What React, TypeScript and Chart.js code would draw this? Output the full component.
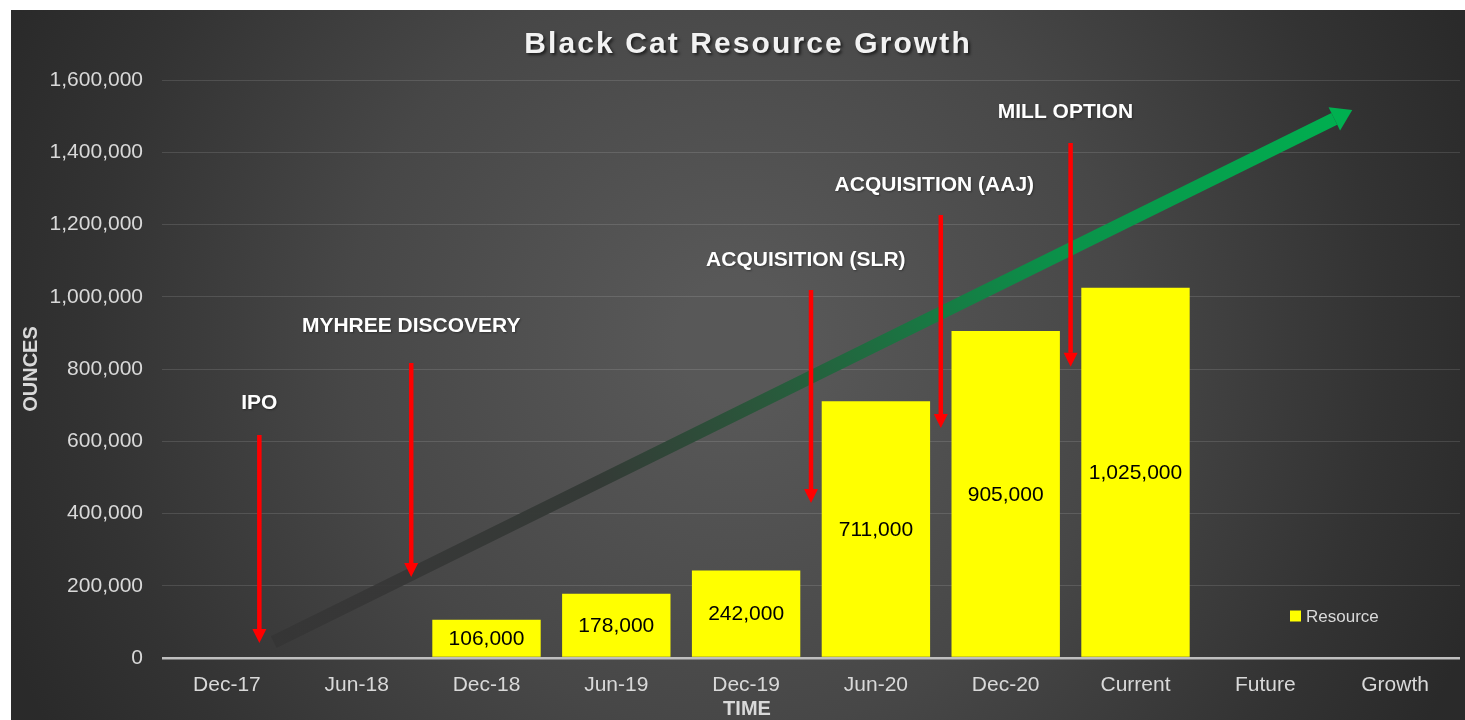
import React, { useEffect, useRef } from 'react';
import { Chart, registerables } from 'chart.js';

Chart.register(...registerables);

// ---------------- data ----------------
const chartTitle = 'Black Cat Resource Growth';
const categories = ['Dec-17', 'Jun-18', 'Dec-18', 'Jun-19', 'Dec-19', 'Jun-20', 'Dec-20', 'Current', 'Future', 'Growth'];
const resourceOunces: (number | null)[] = [null, null, 106000, 178000, 242000, 711000, 905000, 1025000, null, null];
const seriesName = 'Resource';
const yAxisTitle = 'OUNCES';
const xAxisTitle = 'TIME';
const yMin = 0;
const yMax = 1600000;
const yStep = 200000;

// event annotations (x in category units, y in ounces)
const eventLabels = ['IPO', 'MYHREE DISCOVERY', 'ACQUISITION (SLR)', 'ACQUISITION (AAJ)', 'MILL OPTION'];
const eventArrowX = [0.25, 1.42, 4.5, 5.5, 6.5];
const eventLabelX = [0.25, 1.42, 4.46, 5.45, 6.46];
const eventLabelY = [706000, 919000, 1101700, 1309000, 1511400];
const eventArrowTop = [617000, 816600, 1018700, 1226000, 1425600];
const eventArrowTip = [41500, 224000, 429000, 636700, 806000];

// growth trend arrow (start, end)
const growthArrowX = [0.36, 8.67];
const growthArrowY = [44000, 1517000];

// ---------------- styling ----------------
const FONT = '"Liberation Sans", Arial, sans-serif';
const TICK_COLOR = '#d9d9d9';
const CANVAS_W = 1454;
const CANVAS_H = 710;

function fmt(v: number) {
  return v.toLocaleString('en-US');
}

function drawArrow(
  ctx: CanvasRenderingContext2D,
  x0: number, y0: number, x1: number, y1: number,
  width: number, headLen: number, headHalf: number,
  stroke: string | CanvasGradient, fill: string,
) {
  const ang = Math.atan2(y1 - y0, x1 - x0);
  const bx = x1 - headLen * Math.cos(ang);
  const by = y1 - headLen * Math.sin(ang);
  ctx.beginPath();
  ctx.moveTo(x0, y0);
  ctx.lineTo(bx, by);
  ctx.lineWidth = width;
  ctx.strokeStyle = stroke;
  ctx.lineCap = 'butt';
  ctx.stroke();
  ctx.beginPath();
  ctx.moveTo(x1, y1);
  ctx.lineTo(bx + headHalf * Math.sin(ang), by - headHalf * Math.cos(ang));
  ctx.lineTo(bx - headHalf * Math.sin(ang), by + headHalf * Math.cos(ang));
  ctx.closePath();
  ctx.fillStyle = fill;
  ctx.fill();
}

const decorPlugin = {
  id: 'decor',
  beforeDraw(chart: any) {
    const { ctx, width, height } = chart;
    ctx.save();
    const g = ctx.createRadialGradient(725, 330, 60, 725, 330, 790);
    g.addColorStop(0, '#585858');
    g.addColorStop(0.45, '#474747');
    g.addColorStop(0.8, '#333333');
    g.addColorStop(1, '#2a2a2a');
    ctx.fillStyle = g;
    ctx.fillRect(0, 0, width, height);
    ctx.restore();
  },
  beforeDatasetsDraw(chart: any) {
    const { ctx, scales } = chart;
    const x = scales.x;
    const y = scales.y;
    const x0 = x.getPixelForValue(growthArrowX[0]);
    const y0 = y.getPixelForValue(growthArrowY[0]);
    const x1 = x.getPixelForValue(growthArrowX[1]);
    const y1 = y.getPixelForValue(growthArrowY[1]);
    ctx.save();
    const g = ctx.createLinearGradient(x0, y0, x1, y1);
    g.addColorStop(0, 'rgba(50,50,50,0.6)');
    g.addColorStop(0.1, 'rgba(54,54,54,0.9)');
    g.addColorStop(0.3, '#343a36');
    g.addColorStop(0.45, '#2a573b');
    g.addColorStop(0.55, '#1f6c40');
    g.addColorStop(0.72, '#0b9049');
    g.addColorStop(1, '#00b050');
    drawArrow(ctx, x0, y0, x1, y1, 13, 20, 13, g, '#00b050');
    ctx.restore();
  },
  afterDatasetsDraw(chart: any) {
    const { ctx, scales } = chart;
    const x = scales.x;
    const y = scales.y;
    ctx.save();
    // bar value labels
    const meta = chart.getDatasetMeta(0);
    ctx.font = `21px ${FONT}`;
    ctx.fillStyle = '#000000';
    ctx.textAlign = 'center';
    ctx.textBaseline = 'middle';
    meta.data.forEach((bar: any, i: number) => {
      const v = resourceOunces[i];
      if (v == null) return;
      ctx.fillText(fmt(v), bar.x, (bar.y + bar.base) / 2 + 1);
    });
    // red event arrows
    eventLabels.forEach((_, i) => {
      const ax = x.getPixelForValue(eventArrowX[i]);
      drawArrow(ctx, ax, y.getPixelForValue(eventArrowTop[i]), ax, y.getPixelForValue(eventArrowTip[i]),
        4.5, 14, 7, '#ff0000', '#ff0000');
    });
    // event labels
    ctx.font = `bold 21px ${FONT}`;
    ctx.fillStyle = '#ffffff';
    ctx.shadowColor = 'rgba(0,0,0,0.35)';
    ctx.shadowBlur = 2;
    ctx.shadowOffsetX = 1;
    ctx.shadowOffsetY = 1;
    eventLabels.forEach((label, i) => {
      ctx.fillText(label, x.getPixelForValue(eventLabelX[i]), y.getPixelForValue(eventLabelY[i]));
    });
    ctx.restore();
  },
  afterDraw(chart: any) {
    const { ctx, chartArea } = chart;
    ctx.save();
    // title
    ctx.font = `bold 30px ${FONT}`;
    (ctx as any).letterSpacing = '2.1px';
    ctx.textAlign = 'center';
    ctx.textBaseline = 'middle';
    ctx.fillStyle = '#f2f2f2';
    ctx.shadowColor = 'rgba(0,0,0,0.6)';
    ctx.shadowBlur = 3;
    ctx.shadowOffsetX = 2;
    ctx.shadowOffsetY = 2;
    ctx.fillText(chartTitle, 737, 35);
    (ctx as any).letterSpacing = '0px';
    ctx.shadowColor = 'rgba(0,0,0,0)';
    ctx.shadowBlur = 0;
    ctx.shadowOffsetX = 0;
    ctx.shadowOffsetY = 0;
    // x axis title
    ctx.font = `bold 20px ${FONT}`;
    ctx.fillStyle = TICK_COLOR;
    ctx.fillText(xAxisTitle, 736, 699);
    // legend
    const lx = chartArea.right - 170;
    const ly = chartArea.bottom - 42;
    ctx.fillStyle = chart.data.datasets[0].backgroundColor;
    ctx.fillRect(lx, ly - 5.5, 11, 11);
    ctx.font = `17px ${FONT}`;
    ctx.fillStyle = TICK_COLOR;
    ctx.textAlign = 'left';
    ctx.fillText(chart.data.datasets[0].label, lx + 16, ly + 1);
    ctx.restore();
  },
};

export default function App() {
  const ref = useRef<HTMLCanvasElement | null>(null);

  useEffect(() => {
    if (!ref.current) return;
    const yTickValues: number[] = [];
    for (let v = yMin; v <= yMax; v += yStep) yTickValues.push(v);

    const chart = new Chart(ref.current, {
      type: 'bar',
      data: {
        labels: categories,
        datasets: [
          {
            label: seriesName,
            data: resourceOunces as any,
            backgroundColor: '#ffff00',
            borderWidth: 0,
            barPercentage: 0.835,
            categoryPercentage: 1,
          },
        ],
      },
      options: {
        responsive: false,
        animation: false,
        devicePixelRatio: 1,
        layout: { padding: { top: 70, right: 5, bottom: 0, left: 0 } },
        plugins: {
          legend: { display: false },
          title: { display: false },
          tooltip: { enabled: false },
        },
        scales: {
          x: {
            type: 'category',
            offset: true,
            grid: { display: false, drawTicks: false },
            border: { display: false },
            ticks: {
              color: TICK_COLOR,
              font: { family: FONT, size: 21 },
              padding: 15,
              maxRotation: 0,
              autoSkip: false,
            },
            afterFit(scale: any) {
              scale.height = 62;
            },
          },
          y: {
            min: yMin,
            max: yMax,
            afterBuildTicks(scale: any) {
              scale.ticks = yTickValues.map((v) => ({ value: v }));
            },
            grid: {
              drawTicks: false,
              color: (c: any) => (c.tick && c.tick.value === 0 ? '#bfbfbf' : 'rgba(255,255,255,0.12)'),
              lineWidth: (c: any) => (c.tick && c.tick.value === 0 ? 2.5 : 1),
            },
            border: { display: false },
            ticks: {
              color: TICK_COLOR,
              font: { family: FONT, size: 21 },
              padding: 19,
              callback: (v: any) => fmt(Number(v)),
            },
            title: {
              display: true,
              text: yAxisTitle,
              color: TICK_COLOR,
              font: { family: FONT, size: 20, weight: 'bold' },
              padding: { top: 8, bottom: 0 },
            },
            afterFit(scale: any) {
              scale.width = 151;
            },
          },
        },
      },
      plugins: [decorPlugin],
    });
    return () => chart.destroy();
  }, []);

  return (
    <canvas
      ref={ref}
      width={CANVAS_W}
      height={CANVAS_H}
      style={{ position: 'fixed', left: 11, top: 10, width: CANVAS_W, height: CANVAS_H, display: 'block' }}
    />
  );
}
